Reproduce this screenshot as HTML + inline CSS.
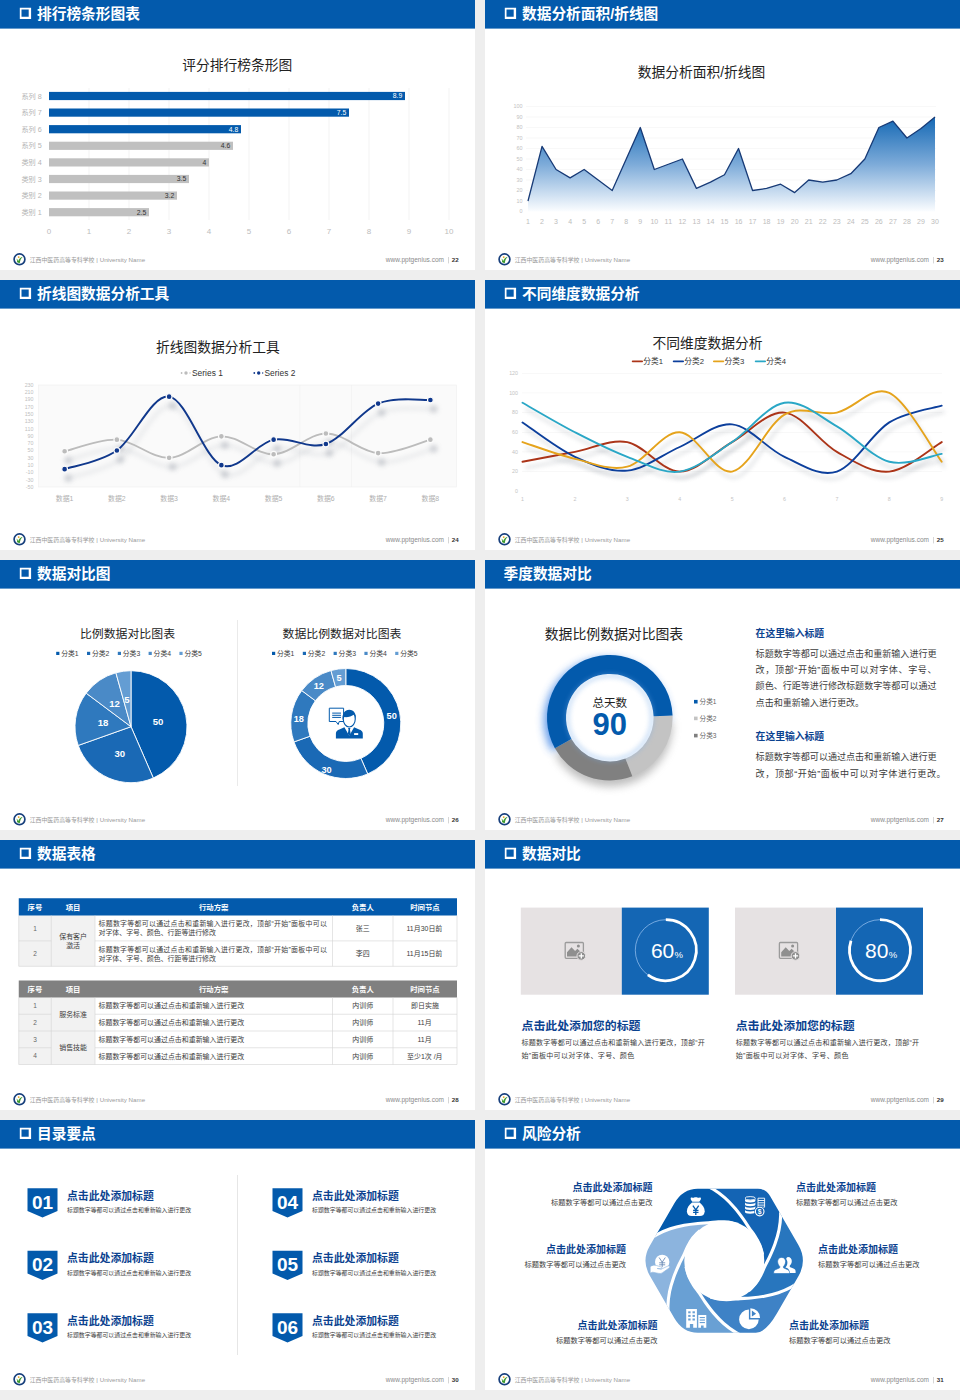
<!DOCTYPE html>
<html lang="zh"><head><meta charset="utf-8"><title>数据图表</title>
<style>
html,body{margin:0;padding:0}
body{width:960px;height:1400px;background:#eee;position:relative;overflow:hidden;font-family:"Liberation Sans","Noto Sans CJK SC",sans-serif}
svg.s{position:absolute;display:block;overflow:hidden}
svg text{font-family:"Liberation Sans","Noto Sans CJK SC",sans-serif;white-space:pre}
</style></head><body>
<svg class="s" style="left:0px;top:0px" width="475" height="270" viewBox="0 0 475 270"><rect width="475" height="270" fill="#fff"/><rect width="475" height="28.6" fill="#035aac"/><path d="M19.8 7.8h11.300v11.300h-11.300zM21.500 9.600v7.100h7.200v-7.100z" fill="#fff" fill-rule="evenodd"/><text x="37" y="19.44" font-size="14.7" font-weight="700" fill="#fff">排行榜条形图表</text><g transform="translate(19.5 259.3)"><circle r="5.4" fill="#fff" stroke="#173f7c" stroke-width="1.7"/><path d="M-3.2 -0.6c1 0.2 1.6 1 1.9 2.2c0.9-2.3 2.4-3.6 4.6-4.2c-1.7 1.5-2.6 3.400-3 6.2c-1.4 0.3-2.4-0.2-2.900-1.100c0.5-0.5 0.5-2-0.6-3.100z" fill="#3a9a2c"/><circle cx="-0.8" cy="-2.2" r="0.9" fill="#e8a21a"/></g><g fill="#9a9a9a"><text x="29.7" y="262.38" font-size="5.9">江西中医药高等专科学校</text><text x="94.6" y="262.38" font-size="6.2" textLength="50.49"> | University Name</text></g><text x="385.84" y="262.4" font-size="6.5" fill="#8a8a8a" textLength="58.16">www.pptgenius.com</text><rect x="448.2" y="257" width="0.6" height="6.4" fill="#bbb"/><text x="451.8" y="262.4" font-size="6.2" font-weight="700" fill="#333" textLength="6.9">22</text><text x="182.3" y="70.49" font-size="13.75" fill="#222">评分排行榜条形图</text><rect x="88.7" y="88" width="0.6" height="132" fill="#ececec"/><rect x="128.7" y="88" width="0.6" height="132" fill="#ececec"/><rect x="168.7" y="88" width="0.6" height="132" fill="#ececec"/><rect x="208.7" y="88" width="0.6" height="132" fill="#ececec"/><rect x="248.7" y="88" width="0.6" height="132" fill="#ececec"/><rect x="288.7" y="88" width="0.6" height="132" fill="#ececec"/><rect x="328.7" y="88" width="0.6" height="132" fill="#ececec"/><rect x="368.7" y="88" width="0.6" height="132" fill="#ececec"/><rect x="408.7" y="88" width="0.6" height="132" fill="#ececec"/><rect x="448.7" y="88" width="0.6" height="132" fill="#ececec"/><rect x="49" y="91.9" width="356" height="8.2" fill="#035aac"/><text x="21.4" y="98.66" font-size="7.2" fill="#b5b5b5">系列 8</text><text x="392.75" y="98.4" font-size="6.8" fill="#fff" textLength="9.45">8.9</text><rect x="49" y="108.5" width="300" height="8.2" fill="#035aac"/><text x="21.4" y="115.26" font-size="7.2" fill="#b5b5b5">系列 7</text><text x="336.75" y="115" font-size="6.8" fill="#fff" textLength="9.45">7.5</text><rect x="49" y="125.1" width="192" height="8.2" fill="#035aac"/><text x="21.4" y="131.86" font-size="7.2" fill="#b5b5b5">系列 6</text><text x="228.75" y="131.6" font-size="6.8" fill="#fff" textLength="9.45">4.8</text><rect x="49" y="141.7" width="184" height="8.2" fill="#c0c0c0"/><text x="21.4" y="148.46" font-size="7.2" fill="#b5b5b5">系列 5</text><text x="220.75" y="148.2" font-size="6.8" fill="#333" textLength="9.45">4.6</text><rect x="49" y="158.3" width="160" height="8.2" fill="#c0c0c0"/><text x="21.4" y="165.06" font-size="7.2" fill="#b5b5b5">类别 4</text><text x="202.42" y="164.8" font-size="6.8" fill="#333">4</text><rect x="49" y="174.9" width="140" height="8.2" fill="#c0c0c0"/><text x="21.4" y="181.66" font-size="7.2" fill="#b5b5b5">类别 3</text><text x="176.75" y="181.4" font-size="6.8" fill="#333" textLength="9.45">3.5</text><rect x="49" y="191.5" width="128" height="8.2" fill="#c0c0c0"/><text x="21.4" y="198.26" font-size="7.2" fill="#b5b5b5">类别 2</text><text x="164.75" y="198" font-size="6.8" fill="#333" textLength="9.45">3.2</text><rect x="49" y="208.1" width="100" height="8.2" fill="#c0c0c0"/><text x="21.4" y="214.86" font-size="7.2" fill="#b5b5b5">类别 1</text><text x="136.75" y="214.6" font-size="6.8" fill="#333" textLength="9.45">2.5</text><text x="46.78" y="234" font-size="8" fill="#bdbdbd">0</text><text x="86.78" y="234" font-size="8" fill="#bdbdbd">1</text><text x="126.78" y="234" font-size="8" fill="#bdbdbd">2</text><text x="166.78" y="234" font-size="8" fill="#bdbdbd">3</text><text x="206.78" y="234" font-size="8" fill="#bdbdbd">4</text><text x="246.78" y="234" font-size="8" fill="#bdbdbd">5</text><text x="286.78" y="234" font-size="8" fill="#bdbdbd">6</text><text x="326.78" y="234" font-size="8" fill="#bdbdbd">7</text><text x="366.78" y="234" font-size="8" fill="#bdbdbd">8</text><text x="406.78" y="234" font-size="8" fill="#bdbdbd">9</text><text x="444.55" y="234" font-size="8" fill="#bdbdbd" textLength="8.9">10</text></svg>
<svg class="s" style="left:485px;top:0px" width="475" height="270" viewBox="0 0 475 270"><rect width="475" height="270" fill="#fff"/><rect width="475" height="28.6" fill="#035aac"/><path d="M19.8 7.8h11.300v11.300h-11.300zM21.500 9.600v7.100h7.200v-7.100z" fill="#fff" fill-rule="evenodd"/><text x="37" y="19.44" font-size="14.7" font-weight="700" fill="#fff">数据分析面积/折线图</text><g transform="translate(19.5 259.3)"><circle r="5.4" fill="#fff" stroke="#173f7c" stroke-width="1.7"/><path d="M-3.2 -0.6c1 0.2 1.6 1 1.9 2.2c0.9-2.3 2.4-3.6 4.6-4.2c-1.7 1.5-2.6 3.400-3 6.2c-1.4 0.3-2.4-0.2-2.900-1.100c0.5-0.5 0.5-2-0.6-3.100z" fill="#3a9a2c"/><circle cx="-0.8" cy="-2.2" r="0.9" fill="#e8a21a"/></g><g fill="#9a9a9a"><text x="29.7" y="262.38" font-size="5.9">江西中医药高等专科学校</text><text x="94.6" y="262.38" font-size="6.2" textLength="50.49"> | University Name</text></g><text x="385.84" y="262.4" font-size="6.5" fill="#8a8a8a" textLength="58.16">www.pptgenius.com</text><rect x="448.2" y="257" width="0.6" height="6.4" fill="#bbb"/><text x="451.8" y="262.4" font-size="6.2" font-weight="700" fill="#333" textLength="6.9">23</text><g transform="translate(-5 0)"><text x="157.71" y="77.49" font-size="13.75" fill="#222">数据分析面积/折线图</text><text x="39.5" y="213.4" font-size="5.4" fill="#c2c2c2">0</text><rect x="46" y="200.75" width="410" height="0.5" fill="#f0f0f0"/><text x="36.49" y="202.9" font-size="5.4" fill="#c2c2c2" textLength="6.01">10</text><rect x="46" y="190.25" width="410" height="0.5" fill="#f0f0f0"/><text x="36.49" y="192.4" font-size="5.4" fill="#c2c2c2" textLength="6.01">20</text><rect x="46" y="179.75" width="410" height="0.5" fill="#f0f0f0"/><text x="36.49" y="181.9" font-size="5.4" fill="#c2c2c2" textLength="6.01">30</text><rect x="46" y="169.25" width="410" height="0.5" fill="#f0f0f0"/><text x="36.49" y="171.4" font-size="5.4" fill="#c2c2c2" textLength="6.01">40</text><rect x="46" y="158.75" width="410" height="0.5" fill="#f0f0f0"/><text x="36.49" y="160.9" font-size="5.4" fill="#c2c2c2" textLength="6.01">50</text><rect x="46" y="148.25" width="410" height="0.5" fill="#f0f0f0"/><text x="36.49" y="150.4" font-size="5.4" fill="#c2c2c2" textLength="6.01">60</text><rect x="46" y="137.75" width="410" height="0.5" fill="#f0f0f0"/><text x="36.49" y="139.9" font-size="5.4" fill="#c2c2c2" textLength="6.01">70</text><rect x="46" y="127.25" width="410" height="0.5" fill="#f0f0f0"/><text x="36.49" y="129.4" font-size="5.4" fill="#c2c2c2" textLength="6.01">80</text><rect x="46" y="116.75" width="410" height="0.5" fill="#f0f0f0"/><text x="36.49" y="118.9" font-size="5.4" fill="#c2c2c2" textLength="6.01">90</text><rect x="46" y="106.25" width="410" height="0.5" fill="#f0f0f0"/><text x="33.49" y="108.4" font-size="5.4" fill="#c2c2c2" textLength="9.01">100</text><defs><linearGradient id="ag" x1="0" y1="0" x2="0" y2="1"><stop offset="0" stop-color="#1468b4"/><stop offset="0.5" stop-color="#7dabd9"/><stop offset="1" stop-color="#fbfdff"/></linearGradient></defs><path d="M48 201L62.03 146.4L76.07 169.5L90.11 177.9L104.14 169.5L118.17 180L132.21 190.5L146.25 159L160.28 127.5L174.31 169.5L188.35 164.25L202.38 159L216.42 188.4L230.46 182.1L244.49 174.75L258.52 148.5L272.56 190.5L286.6 188.4L300.63 184.2L314.67 192.6L328.7 180L342.74 182.1L356.77 180L370.81 173.7L384.84 159L398.88 127.5L412.91 121.2L426.94 138L440.98 128.55L455.01 117L455.01 211.5L48 211.5Z" fill="url(#ag)"/><path d="M48 201L62.03 146.4L76.07 169.5L90.11 177.9L104.14 169.5L118.17 180L132.21 190.5L146.25 159L160.28 127.5L174.31 169.5L188.35 164.25L202.38 159L216.42 188.4L230.46 182.1L244.49 174.75L258.52 148.5L272.56 190.5L286.6 188.4L300.63 184.2L314.67 192.6L328.7 180L342.74 182.1L356.77 180L370.81 173.7L384.84 159L398.88 127.5L412.91 121.2L426.94 138L440.98 128.55L455.01 117" fill="none" stroke="#173a76" stroke-width="1.300" stroke-linejoin="round"/><text x="46.05" y="223.6" font-size="7" fill="#bdbdbd">1</text><text x="60.09" y="223.6" font-size="7" fill="#bdbdbd">2</text><text x="74.12" y="223.6" font-size="7" fill="#bdbdbd">3</text><text x="88.16" y="223.6" font-size="7" fill="#bdbdbd">4</text><text x="102.19" y="223.6" font-size="7" fill="#bdbdbd">5</text><text x="116.23" y="223.6" font-size="7" fill="#bdbdbd">6</text><text x="130.26" y="223.6" font-size="7" fill="#bdbdbd">7</text><text x="144.3" y="223.6" font-size="7" fill="#bdbdbd">8</text><text x="158.33" y="223.6" font-size="7" fill="#bdbdbd">9</text><text x="170.42" y="223.6" font-size="7" fill="#bdbdbd" textLength="7.79">10</text><text x="184.46" y="223.6" font-size="7" fill="#bdbdbd" textLength="7.79">11</text><text x="198.49" y="223.6" font-size="7" fill="#bdbdbd" textLength="7.79">12</text><text x="212.53" y="223.6" font-size="7" fill="#bdbdbd" textLength="7.79">13</text><text x="226.56" y="223.6" font-size="7" fill="#bdbdbd" textLength="7.79">14</text><text x="240.6" y="223.6" font-size="7" fill="#bdbdbd" textLength="7.79">15</text><text x="254.63" y="223.6" font-size="7" fill="#bdbdbd" textLength="7.79">16</text><text x="268.67" y="223.6" font-size="7" fill="#bdbdbd" textLength="7.79">17</text><text x="282.7" y="223.6" font-size="7" fill="#bdbdbd" textLength="7.79">18</text><text x="296.74" y="223.6" font-size="7" fill="#bdbdbd" textLength="7.79">19</text><text x="310.77" y="223.6" font-size="7" fill="#bdbdbd" textLength="7.79">20</text><text x="324.81" y="223.6" font-size="7" fill="#bdbdbd" textLength="7.79">21</text><text x="338.84" y="223.6" font-size="7" fill="#bdbdbd" textLength="7.79">22</text><text x="352.88" y="223.6" font-size="7" fill="#bdbdbd" textLength="7.79">23</text><text x="366.91" y="223.6" font-size="7" fill="#bdbdbd" textLength="7.79">24</text><text x="380.95" y="223.6" font-size="7" fill="#bdbdbd" textLength="7.79">25</text><text x="394.98" y="223.6" font-size="7" fill="#bdbdbd" textLength="7.79">26</text><text x="409.02" y="223.6" font-size="7" fill="#bdbdbd" textLength="7.79">27</text><text x="423.05" y="223.6" font-size="7" fill="#bdbdbd" textLength="7.79">28</text><text x="437.09" y="223.6" font-size="7" fill="#bdbdbd" textLength="7.79">29</text><text x="451.12" y="223.6" font-size="7" fill="#bdbdbd" textLength="7.79">30</text></g></svg>
<svg class="s" style="left:0px;top:280px" width="475" height="270" viewBox="0 0 475 270"><rect width="475" height="270" fill="#fff"/><rect width="475" height="28.6" fill="#035aac"/><path d="M19.8 7.8h11.300v11.300h-11.300zM21.500 9.600v7.100h7.200v-7.100z" fill="#fff" fill-rule="evenodd"/><text x="37" y="19.44" font-size="14.7" font-weight="700" fill="#fff">折线图数据分析工具</text><g transform="translate(19.5 259.3)"><circle r="5.4" fill="#fff" stroke="#173f7c" stroke-width="1.7"/><path d="M-3.2 -0.6c1 0.2 1.6 1 1.9 2.2c0.9-2.3 2.4-3.6 4.6-4.2c-1.7 1.5-2.6 3.400-3 6.2c-1.4 0.3-2.4-0.2-2.900-1.100c0.5-0.5 0.5-2-0.6-3.100z" fill="#3a9a2c"/><circle cx="-0.8" cy="-2.2" r="0.9" fill="#e8a21a"/></g><g fill="#9a9a9a"><text x="29.7" y="262.38" font-size="5.9">江西中医药高等专科学校</text><text x="94.6" y="262.38" font-size="6.2" textLength="50.49"> | University Name</text></g><text x="385.84" y="262.4" font-size="6.5" fill="#8a8a8a" textLength="58.16">www.pptgenius.com</text><rect x="448.2" y="257" width="0.6" height="6.4" fill="#bbb"/><text x="451.8" y="262.4" font-size="6.2" font-weight="700" fill="#333" textLength="6.9">24</text><text x="156.12" y="72.19" font-size="13.75" fill="#222">折线图数据分析工具</text><rect x="38.5" y="105" width="418.0" height="102" fill="#fafafa" stroke="#efefef" stroke-width="0.6"/><rect x="299.7" y="105" width="0.5" height="102" fill="#eee"/><rect x="351" y="105" width="0.5" height="102" fill="#eee"/><text x="24.66" y="106.9" font-size="5.3" fill="#c0c0c0" textLength="8.84">230</text><text x="24.66" y="114.19" font-size="5.3" fill="#c0c0c0" textLength="8.84">210</text><text x="24.66" y="121.47" font-size="5.3" fill="#c0c0c0" textLength="8.84">190</text><text x="24.66" y="128.76" font-size="5.3" fill="#c0c0c0" textLength="8.84">170</text><text x="24.66" y="136.04" font-size="5.3" fill="#c0c0c0" textLength="8.84">150</text><text x="24.66" y="143.33" font-size="5.3" fill="#c0c0c0" textLength="8.84">130</text><text x="24.66" y="150.61" font-size="5.3" fill="#c0c0c0" textLength="8.84">110</text><text x="27.6" y="157.9" font-size="5.3" fill="#c0c0c0" textLength="5.9">90</text><text x="27.6" y="165.19" font-size="5.3" fill="#c0c0c0" textLength="5.9">70</text><text x="27.6" y="172.47" font-size="5.3" fill="#c0c0c0" textLength="5.9">50</text><text x="27.6" y="179.76" font-size="5.3" fill="#c0c0c0" textLength="5.9">30</text><text x="27.6" y="187.04" font-size="5.3" fill="#c0c0c0" textLength="5.9">10</text><text x="25.84" y="194.33" font-size="5.3" fill="#c0c0c0" textLength="7.66">-10</text><text x="25.84" y="201.61" font-size="5.3" fill="#c0c0c0" textLength="7.66">-30</text><text x="25.84" y="208.9" font-size="5.3" fill="#c0c0c0" textLength="7.66">-50</text><defs><filter id="bl3" x="-10%" y="-50%" width="120%" height="200%"><feGaussianBlur stdDeviation="2.6"/></filter></defs><path d="M64.62 171.3C73.33 169.36 99.46 158.55 116.88 159.64C134.29 160.74 151.71 178.4 169.12 177.86C186.54 177.31 203.96 156.97 221.38 156.36C238.79 155.76 256.21 174.7 273.62 174.21C291.04 173.73 308.46 153.63 325.88 153.45C343.29 153.27 360.71 172.09 378.12 173.12C395.54 174.15 421.67 161.89 430.38 159.64" fill="none" stroke="#9aa0aa" stroke-width="3" opacity="0.22" filter="url(#bl3)" transform="translate(3 9)"/><g filter="url(#bl3)" opacity="0.4" transform="translate(3.500 9)" fill="#8a909c"><circle cx="64.62" cy="171.3" r="3.600"/><circle cx="116.88" cy="159.64" r="3.600"/><circle cx="169.12" cy="177.86" r="3.600"/><circle cx="221.38" cy="156.36" r="3.600"/><circle cx="273.62" cy="174.21" r="3.600"/><circle cx="325.88" cy="153.45" r="3.600"/><circle cx="378.12" cy="173.12" r="3.600"/><circle cx="430.38" cy="159.64" r="3.600"/></g><path d="M64.62 189.15C73.33 186.05 99.46 182.65 116.88 170.57C134.29 158.49 151.71 114.23 169.12 116.66C186.54 119.09 203.96 177.98 221.38 185.14C238.79 192.31 256.21 163.16 273.62 159.64C291.04 156.12 308.46 170.02 325.88 164.01C343.29 158 360.71 130.92 378.12 123.58C395.54 116.23 421.67 120.54 430.38 119.94" fill="none" stroke="#9aa0aa" stroke-width="3" opacity="0.22" filter="url(#bl3)" transform="translate(3 9)"/><g filter="url(#bl3)" opacity="0.4" transform="translate(3.500 9)" fill="#8a909c"><circle cx="64.62" cy="189.15" r="3.600"/><circle cx="116.88" cy="170.57" r="3.600"/><circle cx="169.12" cy="116.66" r="3.600"/><circle cx="221.38" cy="185.14" r="3.600"/><circle cx="273.62" cy="159.64" r="3.600"/><circle cx="325.88" cy="164.01" r="3.600"/><circle cx="378.12" cy="123.58" r="3.600"/><circle cx="430.38" cy="119.94" r="3.600"/></g><path d="M64.62 171.3C73.33 169.36 99.46 158.55 116.88 159.64C134.29 160.74 151.71 178.4 169.12 177.86C186.54 177.31 203.96 156.97 221.38 156.36C238.79 155.76 256.21 174.7 273.62 174.21C291.04 173.73 308.46 153.63 325.88 153.45C343.29 153.27 360.71 172.09 378.12 173.12C395.54 174.15 421.67 161.89 430.38 159.64" fill="none" stroke="#bcbcbc" stroke-width="1.9" stroke-linecap="round"/><circle cx="64.62" cy="171.3" r="2.900" fill="#bcbcbc" stroke="#fbfbfb" stroke-width="1.200"/><circle cx="116.88" cy="159.64" r="2.900" fill="#bcbcbc" stroke="#fbfbfb" stroke-width="1.200"/><circle cx="169.12" cy="177.86" r="2.900" fill="#bcbcbc" stroke="#fbfbfb" stroke-width="1.200"/><circle cx="221.38" cy="156.36" r="2.900" fill="#bcbcbc" stroke="#fbfbfb" stroke-width="1.200"/><circle cx="273.62" cy="174.21" r="2.900" fill="#bcbcbc" stroke="#fbfbfb" stroke-width="1.200"/><circle cx="325.88" cy="153.45" r="2.900" fill="#bcbcbc" stroke="#fbfbfb" stroke-width="1.200"/><circle cx="378.12" cy="173.12" r="2.900" fill="#bcbcbc" stroke="#fbfbfb" stroke-width="1.200"/><circle cx="430.38" cy="159.64" r="2.900" fill="#bcbcbc" stroke="#fbfbfb" stroke-width="1.200"/><path d="M64.62 189.15C73.33 186.05 99.46 182.65 116.88 170.57C134.29 158.49 151.71 114.23 169.12 116.66C186.54 119.09 203.96 177.98 221.38 185.14C238.79 192.31 256.21 163.16 273.62 159.64C291.04 156.12 308.46 170.02 325.88 164.01C343.29 158 360.71 130.92 378.12 123.58C395.54 116.23 421.67 120.54 430.38 119.94" fill="none" stroke="#10388c" stroke-width="1.9" stroke-linecap="round"/><circle cx="64.62" cy="189.15" r="2.900" fill="#10388c" stroke="#fbfbfb" stroke-width="1.200"/><circle cx="116.88" cy="170.57" r="2.900" fill="#10388c" stroke="#fbfbfb" stroke-width="1.200"/><circle cx="169.12" cy="116.66" r="2.900" fill="#10388c" stroke="#fbfbfb" stroke-width="1.200"/><circle cx="221.38" cy="185.14" r="2.900" fill="#10388c" stroke="#fbfbfb" stroke-width="1.200"/><circle cx="273.62" cy="159.64" r="2.900" fill="#10388c" stroke="#fbfbfb" stroke-width="1.200"/><circle cx="325.88" cy="164.01" r="2.900" fill="#10388c" stroke="#fbfbfb" stroke-width="1.200"/><circle cx="378.12" cy="123.58" r="2.900" fill="#10388c" stroke="#fbfbfb" stroke-width="1.200"/><circle cx="430.38" cy="119.94" r="2.900" fill="#10388c" stroke="#fbfbfb" stroke-width="1.200"/><text x="55.81" y="221.35" font-size="6.9" fill="#b0b0b0">数据1</text><text x="108.06" y="221.35" font-size="6.9" fill="#b0b0b0">数据2</text><text x="160.31" y="221.35" font-size="6.9" fill="#b0b0b0">数据3</text><text x="212.56" y="221.35" font-size="6.9" fill="#b0b0b0">数据4</text><text x="264.81" y="221.35" font-size="6.9" fill="#b0b0b0">数据5</text><text x="317.06" y="221.35" font-size="6.9" fill="#b0b0b0">数据6</text><text x="369.31" y="221.35" font-size="6.9" fill="#b0b0b0">数据7</text><text x="421.56" y="221.35" font-size="6.9" fill="#b0b0b0">数据8</text><circle cx="181.600" cy="93" r="0.9" fill="#bcbcbc"/><circle cx="186" cy="93" r="1.7" fill="#bcbcbc"/><circle cx="190" cy="93" r="0.7" fill="#bcbcbc"/><text x="192" y="95.9" font-size="8.4" fill="#333" textLength="30.82">Series 1</text><circle cx="254.300" cy="93" r="0.9" fill="#10388c"/><circle cx="258.700" cy="93" r="1.7" fill="#10388c"/><circle cx="262.700" cy="93" r="0.7" fill="#10388c"/><text x="264.5" y="95.9" font-size="8.4" fill="#333" textLength="30.82">Series 2</text></svg>
<svg class="s" style="left:485px;top:280px" width="475" height="270" viewBox="0 0 475 270"><rect width="475" height="270" fill="#fff"/><rect width="475" height="28.6" fill="#035aac"/><path d="M19.8 7.8h11.300v11.300h-11.300zM21.500 9.600v7.100h7.200v-7.100z" fill="#fff" fill-rule="evenodd"/><text x="37" y="19.44" font-size="14.7" font-weight="700" fill="#fff">不同维度数据分析</text><g transform="translate(19.5 259.3)"><circle r="5.4" fill="#fff" stroke="#173f7c" stroke-width="1.7"/><path d="M-3.2 -0.6c1 0.2 1.6 1 1.9 2.2c0.9-2.3 2.4-3.6 4.6-4.2c-1.7 1.5-2.6 3.400-3 6.2c-1.4 0.3-2.4-0.2-2.900-1.100c0.5-0.5 0.5-2-0.6-3.100z" fill="#3a9a2c"/><circle cx="-0.8" cy="-2.2" r="0.9" fill="#e8a21a"/></g><g fill="#9a9a9a"><text x="29.7" y="262.38" font-size="5.9">江西中医药高等专科学校</text><text x="94.6" y="262.38" font-size="6.2" textLength="50.49"> | University Name</text></g><text x="385.84" y="262.4" font-size="6.5" fill="#8a8a8a" textLength="58.16">www.pptgenius.com</text><rect x="448.2" y="257" width="0.6" height="6.4" fill="#bbb"/><text x="451.8" y="262.4" font-size="6.2" font-weight="700" fill="#333" textLength="6.9">25</text><g transform="translate(-5 0)"><text x="172.5" y="67.99" font-size="13.75" fill="#222">不同维度数据分析</text><text x="35.05" y="213.15" font-size="5.3" fill="#c4c4c4">0</text><rect x="42" y="191.33" width="420" height="0.5" fill="#f1f1f1"/><text x="32.1" y="193.48" font-size="5.3" fill="#c4c4c4" textLength="5.9">20</text><rect x="42" y="171.67" width="420" height="0.5" fill="#f1f1f1"/><text x="32.1" y="173.82" font-size="5.3" fill="#c4c4c4" textLength="5.9">40</text><rect x="42" y="152" width="420" height="0.5" fill="#f1f1f1"/><text x="32.1" y="154.15" font-size="5.3" fill="#c4c4c4" textLength="5.9">60</text><rect x="42" y="132.33" width="420" height="0.5" fill="#f1f1f1"/><text x="32.1" y="134.48" font-size="5.3" fill="#c4c4c4" textLength="5.9">80</text><rect x="42" y="112.67" width="420" height="0.5" fill="#f1f1f1"/><text x="29.16" y="114.82" font-size="5.3" fill="#c4c4c4" textLength="8.84">100</text><rect x="42" y="93" width="420" height="0.5" fill="#f1f1f1"/><text x="29.16" y="95.15" font-size="5.3" fill="#c4c4c4" textLength="8.84">120</text><text x="41.03" y="220.8" font-size="5.3" fill="#c4c4c4">1</text><text x="93.43" y="220.8" font-size="5.3" fill="#c4c4c4">2</text><text x="145.83" y="220.8" font-size="5.3" fill="#c4c4c4">3</text><text x="198.23" y="220.8" font-size="5.3" fill="#c4c4c4">4</text><text x="250.63" y="220.8" font-size="5.3" fill="#c4c4c4">5</text><text x="303.03" y="220.8" font-size="5.3" fill="#c4c4c4">6</text><text x="355.43" y="220.8" font-size="5.3" fill="#c4c4c4">7</text><text x="407.83" y="220.8" font-size="5.3" fill="#c4c4c4">8</text><text x="460.23" y="220.8" font-size="5.3" fill="#c4c4c4">9</text><defs><filter id="bl4" x="-10%" y="-50%" width="120%" height="200%"><feGaussianBlur stdDeviation="2.2"/></filter></defs><path d="M42.5 181.75C51.23 180.11 77.43 175.19 94.9 171.92C112.37 168.64 129.83 158.81 147.3 162.08C164.77 165.36 182.23 191.58 199.7 191.58C217.17 191.58 234.63 171.92 252.1 162.08C269.57 152.25 287.03 130.94 304.5 132.58C321.97 134.22 339.43 162.08 356.9 171.92C374.37 181.75 391.83 193.22 409.3 191.58C426.77 189.94 452.97 167 461.7 162.08" fill="none" stroke="#8d949e" stroke-width="2.4" opacity="0.3" filter="url(#bl4)" transform="translate(3 6)"/><path d="M42.5 142.42C51.23 148.15 77.43 168.8 94.9 176.83C112.37 184.86 129.83 192.24 147.3 190.6C164.77 188.96 182.23 174.7 199.7 167C217.17 159.3 234.63 142.74 252.1 144.38C269.57 146.02 287.03 168.97 304.5 176.83C321.97 184.7 339.43 197.32 356.9 191.58C374.37 185.85 391.83 153.4 409.3 142.42C426.77 131.44 452.97 128.49 461.7 125.7" fill="none" stroke="#8d949e" stroke-width="2.4" opacity="0.3" filter="url(#bl4)" transform="translate(3 6)"/><path d="M42.5 162.08C51.23 164.87 77.43 174.7 94.9 178.8C112.37 182.9 129.83 191.09 147.3 186.67C164.77 182.24 182.23 151.43 199.7 152.25C217.17 153.07 234.63 194.53 252.1 191.58C269.57 188.63 287.03 144.38 304.5 134.55C321.97 124.72 339.43 136.19 356.9 132.58C374.37 128.98 391.83 104.72 409.3 112.92C426.77 121.11 452.97 170.28 461.7 181.75" fill="none" stroke="#8d949e" stroke-width="2.4" opacity="0.3" filter="url(#bl4)" transform="translate(3 6)"/><path d="M42.5 122.75C51.23 127.67 77.43 143.24 94.9 152.25C112.37 161.26 129.83 170.28 147.3 176.83C164.77 183.39 182.23 194.04 199.7 191.58C217.17 189.12 234.63 173.56 252.1 162.08C269.57 150.61 287.03 125.37 304.5 122.75C321.97 120.13 339.43 136.52 356.9 146.35C374.37 156.18 391.83 177.16 409.3 181.75C426.77 186.34 452.97 175.19 461.7 173.88" fill="none" stroke="#8d949e" stroke-width="2.4" opacity="0.3" filter="url(#bl4)" transform="translate(3 6)"/><path d="M42.5 181.75C51.23 180.11 77.43 175.19 94.9 171.92C112.37 168.64 129.83 158.81 147.3 162.08C164.77 165.36 182.23 191.58 199.7 191.58C217.17 191.58 234.63 171.92 252.1 162.08C269.57 152.25 287.03 130.94 304.5 132.58C321.97 134.22 339.43 162.08 356.9 171.92C374.37 181.75 391.83 193.22 409.3 191.58C426.77 189.94 452.97 167 461.7 162.08" fill="none" stroke="#ab3418" stroke-width="1.9" stroke-linecap="round"/><path d="M42.5 142.42C51.23 148.15 77.43 168.8 94.9 176.83C112.37 184.86 129.83 192.24 147.3 190.6C164.77 188.96 182.23 174.7 199.7 167C217.17 159.3 234.63 142.74 252.1 144.38C269.57 146.02 287.03 168.97 304.5 176.83C321.97 184.7 339.43 197.32 356.9 191.58C374.37 185.85 391.83 153.4 409.3 142.42C426.77 131.44 452.97 128.49 461.7 125.7" fill="none" stroke="#0c3f9c" stroke-width="1.9" stroke-linecap="round"/><path d="M42.5 162.08C51.23 164.87 77.43 174.7 94.9 178.8C112.37 182.9 129.83 191.09 147.3 186.67C164.77 182.24 182.23 151.43 199.7 152.25C217.17 153.07 234.63 194.53 252.1 191.58C269.57 188.63 287.03 144.38 304.5 134.55C321.97 124.72 339.43 136.19 356.9 132.58C374.37 128.98 391.83 104.72 409.3 112.92C426.77 121.11 452.97 170.28 461.7 181.75" fill="none" stroke="#e5a31c" stroke-width="1.9" stroke-linecap="round"/><path d="M42.5 122.75C51.23 127.67 77.43 143.24 94.9 152.25C112.37 161.26 129.83 170.28 147.3 176.83C164.77 183.39 182.23 194.04 199.7 191.58C217.17 189.12 234.63 173.56 252.1 162.08C269.57 150.61 287.03 125.37 304.5 122.75C321.97 120.13 339.43 136.52 356.9 146.35C374.37 156.18 391.83 177.16 409.3 181.75C426.77 186.34 452.97 175.19 461.7 173.88" fill="none" stroke="#2aa7c6" stroke-width="1.9" stroke-linecap="round"/><rect x="151.8" y="80.500" width="11.200" height="1.700" rx="0.8" fill="#ab3418"/><text x="163.3" y="84.25" font-size="7.7" fill="#333">分类1</text><rect x="192.8" y="80.500" width="11.200" height="1.700" rx="0.8" fill="#0c3f9c"/><text x="204.3" y="84.25" font-size="7.7" fill="#333">分类2</text><rect x="233" y="80.500" width="11.200" height="1.700" rx="0.8" fill="#e5a31c"/><text x="244.5" y="84.25" font-size="7.7" fill="#333">分类3</text><rect x="274.8" y="80.500" width="11.200" height="1.700" rx="0.8" fill="#2aa7c6"/><text x="286.3" y="84.25" font-size="7.7" fill="#333">分类4</text></g></svg>
<svg class="s" style="left:0px;top:560px" width="475" height="270" viewBox="0 0 475 270"><rect width="475" height="270" fill="#fff"/><rect width="475" height="28.6" fill="#035aac"/><path d="M19.8 7.8h11.300v11.300h-11.300zM21.500 9.600v7.100h7.200v-7.100z" fill="#fff" fill-rule="evenodd"/><text x="37" y="19.44" font-size="14.7" font-weight="700" fill="#fff">数据对比图</text><g transform="translate(19.5 259.3)"><circle r="5.4" fill="#fff" stroke="#173f7c" stroke-width="1.7"/><path d="M-3.2 -0.6c1 0.2 1.6 1 1.9 2.2c0.9-2.3 2.4-3.6 4.6-4.2c-1.7 1.5-2.6 3.400-3 6.2c-1.4 0.3-2.4-0.2-2.900-1.100c0.5-0.5 0.5-2-0.6-3.100z" fill="#3a9a2c"/><circle cx="-0.8" cy="-2.2" r="0.9" fill="#e8a21a"/></g><g fill="#9a9a9a"><text x="29.7" y="262.38" font-size="5.9">江西中医药高等专科学校</text><text x="94.6" y="262.38" font-size="6.2" textLength="50.49"> | University Name</text></g><text x="385.84" y="262.4" font-size="6.5" fill="#8a8a8a" textLength="58.16">www.pptgenius.com</text><rect x="448.2" y="257" width="0.6" height="6.4" fill="#bbb"/><text x="451.8" y="262.4" font-size="6.2" font-weight="700" fill="#333" textLength="6.9">26</text><rect x="237.2" y="60" width="0.6" height="166" fill="#dcdcdc"/><text x="79.9" y="78.4" font-size="11.9" fill="#222">比例数据对比图表</text><text x="282.5" y="78.4" font-size="11.9" fill="#222">数据比例数据对比图表</text><rect x="56.2" y="91.800" width="3.2" height="3.2" fill="#035aac"/><text x="61.2" y="96.12" font-size="6.8" fill="#3c3c3c">分类1</text><rect x="87" y="91.800" width="3.2" height="3.2" fill="#1a69b5"/><text x="92" y="96.12" font-size="6.8" fill="#3c3c3c">分类2</text><rect x="117.8" y="91.800" width="3.2" height="3.2" fill="#2f79be"/><text x="122.8" y="96.12" font-size="6.8" fill="#3c3c3c">分类3</text><rect x="148.6" y="91.800" width="3.2" height="3.2" fill="#4a8ac7"/><text x="153.6" y="96.12" font-size="6.8" fill="#3c3c3c">分类4</text><rect x="179.4" y="91.800" width="3.2" height="3.2" fill="#649dd3"/><text x="184.4" y="96.12" font-size="6.8" fill="#3c3c3c">分类5</text><rect x="272" y="91.800" width="3.2" height="3.2" fill="#035aac"/><text x="277" y="96.12" font-size="6.8" fill="#3c3c3c">分类1</text><rect x="302.8" y="91.800" width="3.2" height="3.2" fill="#1a69b5"/><text x="307.8" y="96.12" font-size="6.8" fill="#3c3c3c">分类2</text><rect x="333.6" y="91.800" width="3.2" height="3.2" fill="#2f79be"/><text x="338.6" y="96.12" font-size="6.8" fill="#3c3c3c">分类3</text><rect x="364.4" y="91.800" width="3.2" height="3.2" fill="#4a8ac7"/><text x="369.4" y="96.12" font-size="6.8" fill="#3c3c3c">分类4</text><rect x="395.2" y="91.800" width="3.2" height="3.2" fill="#649dd3"/><text x="400.2" y="96.12" font-size="6.8" fill="#3c3c3c">分类5</text><path d="M131 166.7L131 110.7A56 56 0 0 1 153.31 218.06Z" fill="#035aac" stroke="#fff" stroke-width="0.9" stroke-linejoin="round"/><path d="M131 166.7L153.31 218.06A56 56 0 0 1 78.23 185.45Z" fill="#1a69b5" stroke="#fff" stroke-width="0.9" stroke-linejoin="round"/><path d="M131 166.7L78.23 185.45A56 56 0 0 1 86.15 133.17Z" fill="#2f79be" stroke="#fff" stroke-width="0.9" stroke-linejoin="round"/><path d="M131 166.7L86.15 133.17A56 56 0 0 1 115.89 112.78Z" fill="#4a8ac7" stroke="#fff" stroke-width="0.9" stroke-linejoin="round"/><path d="M131 166.7L115.89 112.78A56 56 0 0 1 131 110.7Z" fill="#649dd3" stroke="#fff" stroke-width="0.9" stroke-linejoin="round"/><text x="152.66" y="164.9" font-size="9.6" font-weight="700" fill="#fff" textLength="10.68">50</text><text x="114.46" y="196.7" font-size="9.6" font-weight="700" fill="#fff" textLength="10.68">30</text><text x="97.66" y="166.4" font-size="9.6" font-weight="700" fill="#fff" textLength="10.68">18</text><text x="109.26" y="147.4" font-size="9.6" font-weight="700" fill="#fff" textLength="10.68">12</text><text x="124.23" y="143" font-size="9.6" font-weight="700" fill="#fff">5</text><path d="M345.8 108.5A55 55 0 0 1 367.71 213.95L360.94 198.35A38 38 0 0 0 345.8 125.5Z" fill="#035aac" stroke="#fff" stroke-width="0.9" stroke-linejoin="round"/><path d="M367.71 213.95A55 55 0 0 1 293.98 181.92L309.99 176.23A38 38 0 0 0 360.94 198.35Z" fill="#1a69b5" stroke="#fff" stroke-width="0.9" stroke-linejoin="round"/><path d="M293.98 181.92A55 55 0 0 1 301.75 130.57L315.37 140.75A38 38 0 0 0 309.99 176.23Z" fill="#2f79be" stroke="#fff" stroke-width="0.9" stroke-linejoin="round"/><path d="M301.75 130.57A55 55 0 0 1 330.96 110.54L335.55 126.91A38 38 0 0 0 315.37 140.75Z" fill="#4a8ac7" stroke="#fff" stroke-width="0.9" stroke-linejoin="round"/><path d="M330.96 110.54A55 55 0 0 1 345.8 108.5L345.8 125.5A38 38 0 0 0 335.55 126.91Z" fill="#649dd3" stroke="#fff" stroke-width="0.9" stroke-linejoin="round"/><text x="386.58" y="158.5" font-size="9.2" font-weight="700" fill="#fff" textLength="10.23">50</text><text x="321.38" y="212.7" font-size="9.2" font-weight="700" fill="#fff" textLength="10.23">30</text><text x="293.63" y="161.6" font-size="9.2" font-weight="700" fill="#fff" textLength="10.23">18</text><text x="313.63" y="128.7" font-size="9.2" font-weight="700" fill="#fff" textLength="10.23">12</text><text x="336.44" y="121" font-size="9.2" font-weight="700" fill="#fff">5</text><g transform="translate(345.800 163.5)" fill="#035aac"><path d="M-16.500 -15.300h14.300v13.300h-4.400l-1 3l-2.200-3h-6.700z" fill="#fff" stroke="#035aac" stroke-width="1" stroke-linejoin="round"/><rect x="-13.600" y="-10.900" width="8.800" height="1"/><rect x="-13.600" y="-8.700" width="8.800" height="1"/><rect x="-13.600" y="-6.600" width="8.800" height="1"/><ellipse cx="3.450" cy="-4.600" rx="6" ry="8.100" fill="#fff" stroke="#035aac" stroke-width="1.100"/><path d="M-3.100 -3.600c-0.800-6.300 2.200-10.100 6.600-10.100c4.400 0 7.300 3.800 6.500 10.100c-0.200-2.100-0.700-3.900-1.600-5.300c-2.600 1.900-6.300 2.800-9.700 2.500c-0.900 0.700-1.500 1.600-1.800 2.800z"/><path d="M-9.900 15.100v-5.100c0-2.500 1.500-3.400 3.500-4.100l5-2.200l4.850 8.500l4.850-8.500l5 2.200c2 0.700 3.700 1.600 3.700 4.100v5.100z"/><path d="M2.250 4.600h2.400l-0.500 1.300l0.700 4.300l-1.400 2.200l-1.400-2.200l0.700-4.300z"/><rect x="8.300" y="9.600" width="4.100" height="1.900" fill="#fff"/></g></svg>
<svg class="s" style="left:485px;top:560px" width="475" height="270" viewBox="0 0 475 270"><rect width="475" height="270" fill="#fff"/><rect width="475" height="28.6" fill="#035aac"/><text x="18.5" y="19.44" font-size="14.7" font-weight="700" fill="#fff">季度数据对比</text><g transform="translate(19.5 259.3)"><circle r="5.4" fill="#fff" stroke="#173f7c" stroke-width="1.7"/><path d="M-3.2 -0.6c1 0.2 1.6 1 1.9 2.2c0.9-2.3 2.4-3.6 4.6-4.2c-1.7 1.5-2.6 3.400-3 6.2c-1.4 0.3-2.4-0.2-2.900-1.100c0.5-0.5 0.5-2-0.6-3.100z" fill="#3a9a2c"/><circle cx="-0.8" cy="-2.2" r="0.9" fill="#e8a21a"/></g><g fill="#9a9a9a"><text x="29.7" y="262.38" font-size="5.9">江西中医药高等专科学校</text><text x="94.6" y="262.38" font-size="6.2" textLength="50.49"> | University Name</text></g><text x="385.84" y="262.4" font-size="6.5" fill="#8a8a8a" textLength="58.16">www.pptgenius.com</text><rect x="448.2" y="257" width="0.6" height="6.4" fill="#bbb"/><text x="451.8" y="262.4" font-size="6.2" font-weight="700" fill="#333" textLength="6.9">27</text><g transform="translate(-5 0)"><text x="64.75" y="79.12" font-size="13.85" fill="#222">数据比例数据对比图表</text><defs><filter id="bl6" x="-30%" y="-30%" width="160%" height="160%"><feGaussianBlur stdDeviation="4"/></filter><filter id="bl6b" x="-30%" y="-30%" width="160%" height="160%"><feGaussianBlur stdDeviation="2.5"/></filter></defs><path d="M74.87 188.15A62.8 62.8 0 1 1 192.56 155.51L173.57 156.17A43.8 43.8 0 1 0 91.49 178.93Z" fill="#4f8fe8" opacity="0.9" filter="url(#bl6)" transform="translate(-3 3)"/><path d="M192.56 155.51A62.8 62.8 0 0 1 74.87 188.15L91.49 178.93A43.8 43.8 0 0 0 173.57 156.17Z" fill="#888" opacity="0.55" filter="url(#bl6)" transform="translate(0 6)"/><circle cx="129.8" cy="157.7" r="44.8" fill="#fff"/><path d="M192.56 155.51A62.8 62.8 0 0 1 152.31 216.33L145.5 198.59A43.8 43.8 0 0 0 173.57 156.17Z" fill="#c3c3c3"/><path d="M152.31 216.33A62.8 62.8 0 0 1 74.87 188.15L91.49 178.93A43.8 43.8 0 0 0 145.5 198.59Z" fill="#808080"/><path d="M74.87 188.15A62.8 62.8 0 1 1 192.56 155.51L173.57 156.17A43.8 43.8 0 1 0 91.49 178.93Z" fill="#035aac"/><circle cx="129.8" cy="157.7" r="42.3" fill="none" stroke="#7fb0ea" stroke-width="3" opacity="0.55" filter="url(#bl6b)"/><text x="112.4" y="147.09" font-size="11.6" fill="#222">总天数</text><text x="112.56" y="174.9" font-size="31" font-weight="700" fill="#035aac" textLength="34.48">90</text><rect x="214" y="139.9" width="3.600" height="3.600" fill="#035aac"/><text x="219.6" y="144.14" font-size="6.6" fill="#666">分类1</text><rect x="214" y="156.6" width="3.600" height="3.600" fill="#c3c3c3"/><text x="219.6" y="160.84" font-size="6.6" fill="#666">分类2</text><rect x="214" y="173.8" width="3.600" height="3.600" fill="#808080"/><text x="219.6" y="178.04" font-size="6.6" fill="#666">分类3</text><text x="275.6" y="76.53" font-size="9.8" font-weight="700" fill="#0b428f">在这里输入标题</text><text x="275.6" y="96.85" font-size="9.05" fill="#3c3c3c">标题数字等都可以通过点击和重新输入进行更</text><text x="275.6" y="113.15" font-size="9.05" fill="#3c3c3c" textLength="181">改，顶部“开始”面板中可以对字体、字号、</text><text x="275.6" y="129.45" font-size="9.05" fill="#3c3c3c">颜色、行距等进行修改标题数字等都可以通过</text><text x="275.6" y="145.75" font-size="9.05" fill="#3c3c3c">点击和重新输入进行更改。</text><text x="275.6" y="179.63" font-size="9.8" font-weight="700" fill="#0b428f">在这里输入标题</text><text x="275.6" y="200.35" font-size="9.05" fill="#3c3c3c">标题数字等都可以通过点击和重新输入进行更</text><text x="275.6" y="216.75" font-size="9.05" fill="#3c3c3c" textLength="190.05">改，顶部“开始”面板中可以对字体进行更改。</text></g></svg>
<svg class="s" style="left:0px;top:840px" width="475" height="270" viewBox="0 0 475 270"><rect width="475" height="270" fill="#fff"/><rect width="475" height="28.6" fill="#035aac"/><path d="M19.8 7.8h11.300v11.300h-11.300zM21.500 9.600v7.100h7.200v-7.100z" fill="#fff" fill-rule="evenodd"/><text x="37" y="19.44" font-size="14.7" font-weight="700" fill="#fff">数据表格</text><g transform="translate(19.5 259.3)"><circle r="5.4" fill="#fff" stroke="#173f7c" stroke-width="1.7"/><path d="M-3.2 -0.6c1 0.2 1.6 1 1.9 2.2c0.9-2.3 2.4-3.6 4.6-4.2c-1.7 1.5-2.6 3.400-3 6.2c-1.4 0.3-2.4-0.2-2.900-1.100c0.5-0.5 0.5-2-0.6-3.100z" fill="#3a9a2c"/><circle cx="-0.8" cy="-2.2" r="0.9" fill="#e8a21a"/></g><g fill="#9a9a9a"><text x="29.7" y="262.38" font-size="5.9">江西中医药高等专科学校</text><text x="94.6" y="262.38" font-size="6.2" textLength="50.49"> | University Name</text></g><text x="385.84" y="262.4" font-size="6.5" fill="#8a8a8a" textLength="58.16">www.pptgenius.com</text><rect x="448.2" y="257" width="0.6" height="6.4" fill="#bbb"/><text x="451.8" y="262.4" font-size="6.2" font-weight="700" fill="#333" textLength="6.9">28</text><rect x="18.75" y="75.5" width="76.25" height="50.8" fill="#f2f2f2"/><rect x="18.75" y="58.25" width="438.25" height="17.25" fill="#035aac"/><text x="27.6" y="69.61" font-size="7.4" font-weight="700" fill="#fff">序号</text><text x="65.72" y="69.61" font-size="7.4" font-weight="700" fill="#fff">项目</text><text x="198.95" y="69.61" font-size="7.4" font-weight="700" fill="#fff">行动方案</text><text x="351.65" y="69.61" font-size="7.4" font-weight="700" fill="#fff">负责人</text><text x="410.2" y="69.61" font-size="7.4" font-weight="700" fill="#fff">时间节点</text><path d="M18.75 75.5V126.3M51.25 75.5V126.3M95 75.5V126.3M332.5 75.5V126.3M393 75.5V126.3M457 75.5V126.3M18.75 100.9H51.25M95 100.9H457M18.75 126.3H457" stroke="#d4d4d4" stroke-width="0.6" fill="none"/><text x="33.19" y="90.5" font-size="6.5" fill="#666">1</text><text x="98.5" y="86.46" font-size="6.92" fill="#3c3c3c" textLength="228.36">标题数字等都可以通过点击和重新输入进行更改，顶部“开始”面板中可以</text><text x="98.5" y="95.16" font-size="6.92" fill="#3c3c3c">对字体、字号、颜色、行距等进行修改</text><text x="355.8" y="90.77" font-size="6.95" fill="#3c3c3c">张三</text><text x="406.54" y="90.77" font-size="6.95" fill="#3c3c3c">11月30日前</text><text x="33.19" y="115.9" font-size="6.5" fill="#666">2</text><text x="98.5" y="111.86" font-size="6.92" fill="#3c3c3c" textLength="228.36">标题数字等都可以通过点击和重新输入进行更改，顶部“开始”面板中可以</text><text x="98.5" y="120.56" font-size="6.92" fill="#3c3c3c">对字体、字号、颜色、行距等进行修改</text><text x="355.8" y="116.17" font-size="6.95" fill="#3c3c3c">李四</text><text x="406.54" y="116.17" font-size="6.95" fill="#3c3c3c">11月15日前</text><text x="59.2" y="99.37" font-size="6.95" fill="#3c3c3c">保有客户</text><text x="66.15" y="107.97" font-size="6.95" fill="#3c3c3c">激活</text><rect x="18.75" y="157.5" width="76.25" height="67" fill="#f2f2f2"/><rect x="18.75" y="140.5" width="438.25" height="17" fill="#808080"/><text x="27.6" y="151.74" font-size="7.4" font-weight="700" fill="#fff">序号</text><text x="65.72" y="151.74" font-size="7.4" font-weight="700" fill="#fff">项目</text><text x="198.95" y="151.74" font-size="7.4" font-weight="700" fill="#fff">行动方案</text><text x="351.65" y="151.74" font-size="7.4" font-weight="700" fill="#fff">负责人</text><text x="410.2" y="151.74" font-size="7.4" font-weight="700" fill="#fff">时间节点</text><path d="M18.75 157.5V224.5M51.25 157.5V224.5M95 157.5V224.5M332.5 157.5V224.5M393 157.5V224.5M457 157.5V224.5M18.75 174.25H51.25M95 174.25H457M18.75 191H457M18.75 207.75H51.25M95 207.75H457M18.75 224.5H457" stroke="#d4d4d4" stroke-width="0.6" fill="none"/><text x="33.19" y="168.18" font-size="6.5" fill="#666">1</text><text x="98.5" y="168.44" font-size="6.94" fill="#3c3c3c">标题数字等都可以通过点击和重新输入进行更改</text><text x="352.32" y="168.45" font-size="6.95" fill="#3c3c3c">内训师</text><text x="411.1" y="168.45" font-size="6.95" fill="#3c3c3c">即日实施</text><text x="33.19" y="184.93" font-size="6.5" fill="#666">2</text><text x="98.5" y="185.19" font-size="6.94" fill="#3c3c3c">标题数字等都可以通过点击和重新输入进行更改</text><text x="352.32" y="185.2" font-size="6.95" fill="#3c3c3c">内训师</text><text x="417.51" y="185.2" font-size="6.95" fill="#3c3c3c">11月</text><text x="33.19" y="201.68" font-size="6.5" fill="#666">3</text><text x="98.5" y="201.94" font-size="6.94" fill="#3c3c3c">标题数字等都可以通过点击和重新输入进行更改</text><text x="352.32" y="201.95" font-size="6.95" fill="#3c3c3c">内训师</text><text x="417.51" y="201.95" font-size="6.95" fill="#3c3c3c">11月</text><text x="33.19" y="218.43" font-size="6.5" fill="#666">4</text><text x="98.5" y="218.69" font-size="6.94" fill="#3c3c3c">标题数字等都可以通过点击和重新输入进行更改</text><text x="352.32" y="218.7" font-size="6.95" fill="#3c3c3c">内训师</text><text x="407.08" y="218.7" font-size="6.95" fill="#3c3c3c">至少1次 /月</text><text x="59.2" y="176.82" font-size="6.95" fill="#3c3c3c">服务标准</text><text x="59.2" y="210.32" font-size="6.95" fill="#3c3c3c">销售技能</text></svg>
<svg class="s" style="left:485px;top:840px" width="475" height="270" viewBox="0 0 475 270"><rect width="475" height="270" fill="#fff"/><rect width="475" height="28.6" fill="#035aac"/><path d="M19.8 7.8h11.300v11.300h-11.300zM21.500 9.600v7.100h7.200v-7.100z" fill="#fff" fill-rule="evenodd"/><text x="37" y="19.44" font-size="14.7" font-weight="700" fill="#fff">数据对比</text><g transform="translate(19.5 259.3)"><circle r="5.4" fill="#fff" stroke="#173f7c" stroke-width="1.7"/><path d="M-3.2 -0.6c1 0.2 1.6 1 1.9 2.2c0.9-2.3 2.4-3.6 4.6-4.2c-1.7 1.5-2.6 3.400-3 6.2c-1.4 0.3-2.4-0.2-2.900-1.100c0.5-0.5 0.5-2-0.6-3.100z" fill="#3a9a2c"/><circle cx="-0.8" cy="-2.2" r="0.9" fill="#e8a21a"/></g><g fill="#9a9a9a"><text x="29.7" y="262.38" font-size="5.9">江西中医药高等专科学校</text><text x="94.6" y="262.38" font-size="6.2" textLength="50.49"> | University Name</text></g><text x="385.84" y="262.4" font-size="6.5" fill="#8a8a8a" textLength="58.16">www.pptgenius.com</text><rect x="448.2" y="257" width="0.6" height="6.4" fill="#bbb"/><text x="451.8" y="262.4" font-size="6.2" font-weight="700" fill="#333" textLength="6.9">29</text><g transform="translate(-5 0)"><rect x="40.8" y="67.600" width="101.00000000000001" height="87.100" fill="#e6e2e3"/><rect x="141.8" y="67.600" width="87" height="87.100" fill="#1466b4"/><circle cx="185.8" cy="110.2" r="30.5" fill="none" stroke="#7fb0e4" stroke-width="0.9"/><path d="M185.8 79.7A30.5 30.5 0 1 1 167.87 134.88" fill="none" stroke="#fff" stroke-width="2.800"/><text x="170.9" y="118" font-size="21" fill="#fff" textLength="23.36">60</text><text x="194.56" y="118" font-size="9.5" fill="#fff">%</text><g transform="translate(94.6 110.7)"><rect x="-9.400" y="-8.200" width="18.200" height="15.800" rx="1" fill="#e6e2e3" stroke="#9b9b9b" stroke-width="1.300"/><path d="M-7.600 5.800v-4.200l4.500-5.100l3.600 3.700l2.300-2.100l4.200 4v3.700z" fill="#8f8f8f"/><circle cx="3.800" cy="-4.600" r="1.500" fill="#8f8f8f"/><circle cx="6.700" cy="5.200" r="4.300" fill="#8f8f8f" stroke="#e6e2e3" stroke-width="1"/><path d="M4.100 5.200h5.200M6.700 2.600v5.200" stroke="#fff" stroke-width="1.300"/></g><text x="41.5" y="190.4" font-size="11.9" font-weight="700" fill="#0b428f">点击此处添加您的标题</text><text x="41.5" y="205.41" font-size="7.05" fill="#3c3c3c" textLength="183.3">标题数字等都可以通过点击和重新输入进行更改，顶部“开</text><text x="41.5" y="218.01" font-size="7.05" fill="#3c3c3c" textLength="112.8">始”面板中可以对字体、字号、颜色</text><rect x="255" y="67.600" width="101" height="87.100" fill="#e6e2e3"/><rect x="356" y="67.600" width="87" height="87.100" fill="#1466b4"/><circle cx="400" cy="110.2" r="30.5" fill="none" stroke="#7fb0e4" stroke-width="0.9"/><path d="M400 79.7A30.5 30.5 0 1 1 370.99 100.77" fill="none" stroke="#fff" stroke-width="2.800"/><text x="385.1" y="118" font-size="21" fill="#fff" textLength="23.36">80</text><text x="408.76" y="118" font-size="9.5" fill="#fff">%</text><g transform="translate(308.8 110.7)"><rect x="-9.400" y="-8.200" width="18.200" height="15.800" rx="1" fill="#e6e2e3" stroke="#9b9b9b" stroke-width="1.300"/><path d="M-7.600 5.800v-4.200l4.500-5.100l3.600 3.700l2.300-2.100l4.200 4v3.700z" fill="#8f8f8f"/><circle cx="3.800" cy="-4.600" r="1.500" fill="#8f8f8f"/><circle cx="6.700" cy="5.200" r="4.300" fill="#8f8f8f" stroke="#e6e2e3" stroke-width="1"/><path d="M4.100 5.200h5.200M6.700 2.600v5.200" stroke="#fff" stroke-width="1.300"/></g><text x="255.7" y="190.4" font-size="11.9" font-weight="700" fill="#0b428f">点击此处添加您的标题</text><text x="255.7" y="205.41" font-size="7.05" fill="#3c3c3c" textLength="183.3">标题数字等都可以通过点击和重新输入进行更改，顶部“开</text><text x="255.7" y="218.01" font-size="7.05" fill="#3c3c3c" textLength="112.8">始”面板中可以对字体、字号、颜色</text></g></svg>
<svg class="s" style="left:0px;top:1120px" width="475" height="270" viewBox="0 0 475 270"><rect width="475" height="270" fill="#fff"/><rect width="475" height="28.6" fill="#035aac"/><path d="M19.8 7.8h11.300v11.300h-11.300zM21.500 9.600v7.100h7.200v-7.100z" fill="#fff" fill-rule="evenodd"/><text x="37" y="19.44" font-size="14.7" font-weight="700" fill="#fff">目录要点</text><g transform="translate(19.5 259.3)"><circle r="5.4" fill="#fff" stroke="#173f7c" stroke-width="1.7"/><path d="M-3.2 -0.6c1 0.2 1.6 1 1.9 2.2c0.9-2.3 2.4-3.6 4.6-4.2c-1.7 1.5-2.6 3.400-3 6.2c-1.4 0.3-2.4-0.2-2.900-1.100c0.5-0.5 0.5-2-0.6-3.100z" fill="#3a9a2c"/><circle cx="-0.8" cy="-2.2" r="0.9" fill="#e8a21a"/></g><g fill="#9a9a9a"><text x="29.7" y="262.38" font-size="5.9">江西中医药高等专科学校</text><text x="94.6" y="262.38" font-size="6.2" textLength="50.49"> | University Name</text></g><text x="385.84" y="262.4" font-size="6.5" fill="#8a8a8a" textLength="58.16">www.pptgenius.com</text><rect x="448.2" y="257" width="0.6" height="6.4" fill="#bbb"/><text x="451.8" y="262.4" font-size="6.2" font-weight="700" fill="#333" textLength="6.9">30</text><rect x="237.2" y="55" width="0.6" height="180" fill="#d6d6d6"/><path d="M27.5 68.25h30v22.800l-15 6.400l-15-6.400z" fill="#035aac"/><text x="31.93" y="88.85" font-size="19" font-weight="700" fill="#fff" textLength="21.13">01</text><text x="67" y="79.51" font-size="10.85" font-weight="700" fill="#0b428f">点击此处添加标题</text><text x="67" y="92.19" font-size="5.92" fill="#3c3c3c">标题数字等都可以通过点击和重新输入进行更改</text><path d="M27.5 130.75h30v22.800l-15 6.400l-15-6.400z" fill="#035aac"/><text x="31.93" y="151.35" font-size="19" font-weight="700" fill="#fff" textLength="21.13">02</text><text x="67" y="142.01" font-size="10.85" font-weight="700" fill="#0b428f">点击此处添加标题</text><text x="67" y="154.69" font-size="5.92" fill="#3c3c3c">标题数字等都可以通过点击和重新输入进行更改</text><path d="M27.5 193.25h30v22.800l-15 6.400l-15-6.400z" fill="#035aac"/><text x="31.93" y="213.85" font-size="19" font-weight="700" fill="#fff" textLength="21.13">03</text><text x="67" y="204.51" font-size="10.85" font-weight="700" fill="#0b428f">点击此处添加标题</text><text x="67" y="217.19" font-size="5.92" fill="#3c3c3c">标题数字等都可以通过点击和重新输入进行更改</text><path d="M272.5 68.25h30v22.800l-15 6.400l-15-6.400z" fill="#035aac"/><text x="276.93" y="88.85" font-size="19" font-weight="700" fill="#fff" textLength="21.13">04</text><text x="312" y="79.51" font-size="10.85" font-weight="700" fill="#0b428f">点击此处添加标题</text><text x="312" y="92.19" font-size="5.92" fill="#3c3c3c">标题数字等都可以通过点击和重新输入进行更改</text><path d="M272.5 130.75h30v22.800l-15 6.400l-15-6.400z" fill="#035aac"/><text x="276.93" y="151.35" font-size="19" font-weight="700" fill="#fff" textLength="21.13">05</text><text x="312" y="142.01" font-size="10.85" font-weight="700" fill="#0b428f">点击此处添加标题</text><text x="312" y="154.69" font-size="5.92" fill="#3c3c3c">标题数字等都可以通过点击和重新输入进行更改</text><path d="M272.5 193.25h30v22.800l-15 6.400l-15-6.400z" fill="#035aac"/><text x="276.93" y="213.85" font-size="19" font-weight="700" fill="#fff" textLength="21.13">06</text><text x="312" y="204.51" font-size="10.85" font-weight="700" fill="#0b428f">点击此处添加标题</text><text x="312" y="217.19" font-size="5.92" fill="#3c3c3c">标题数字等都可以通过点击和重新输入进行更改</text></svg>
<svg class="s" style="left:485px;top:1120px" width="475" height="270" viewBox="0 0 475 270"><rect width="475" height="270" fill="#fff"/><rect width="475" height="28.6" fill="#035aac"/><path d="M19.8 7.8h11.300v11.300h-11.300zM21.500 9.600v7.100h7.200v-7.100z" fill="#fff" fill-rule="evenodd"/><text x="37" y="19.44" font-size="14.7" font-weight="700" fill="#fff">风险分析</text><g transform="translate(19.5 259.3)"><circle r="5.4" fill="#fff" stroke="#173f7c" stroke-width="1.7"/><path d="M-3.2 -0.6c1 0.2 1.6 1 1.9 2.2c0.9-2.3 2.4-3.6 4.6-4.2c-1.7 1.5-2.6 3.400-3 6.2c-1.4 0.3-2.4-0.2-2.900-1.100c0.5-0.5 0.5-2-0.6-3.100z" fill="#3a9a2c"/><circle cx="-0.8" cy="-2.2" r="0.9" fill="#e8a21a"/></g><g fill="#9a9a9a"><text x="29.7" y="262.38" font-size="5.9">江西中医药高等专科学校</text><text x="94.6" y="262.38" font-size="6.2" textLength="50.49"> | University Name</text></g><text x="385.84" y="262.4" font-size="6.5" fill="#8a8a8a" textLength="58.16">www.pptgenius.com</text><rect x="448.2" y="257" width="0.6" height="6.4" fill="#bbb"/><text x="451.8" y="262.4" font-size="6.2" font-weight="700" fill="#333" textLength="6.9">31</text><g transform="translate(-5 0)"><defs><clipPath id="hx"><path d="M318.4 125.11Q327.4 140.7 318.4 156.29L296.85 193.61Q285.85 212.67 275.85 212.67L217.75 212.67Q202.75 212.67 194.25 197.94L169.7 155.42Q161.2 140.7 169.7 125.98L194.25 83.46Q202.75 68.73 217.75 68.73L277.85 68.73Q285.85 68.73 290.35 76.53Z"/></clipPath></defs><g clip-path="url(#hx)"><path d="M159.66 125.47C162.53 123.65 171.8 117.34 176.89 114.55C181.99 111.76 185.69 110.28 190.25 108.73C194.8 107.18 199.63 106.13 204.23 105.25C208.83 104.37 213.76 103.85 217.83 103.45C221.89 103.04 225.2 103.09 228.61 102.82C232.02 102.56 234.97 101.98 238.29 101.86C241.6 101.75 245.15 101.68 248.49 102.13C251.83 102.57 256.69 104.13 258.33 104.53A38.8 38.8 0 0 1 282.64 134.76L282.64 134.76C282.17 133.14 281.09 128.16 279.8 125.04C278.51 121.93 276.68 118.89 274.93 116.07C273.17 113.26 271.19 110.99 269.26 108.17C267.33 105.35 265.71 102.46 263.32 99.15C260.94 95.83 258.03 91.81 254.97 88.27C251.91 84.73 248.58 81.07 244.96 77.9C241.34 74.73 238.2 72.27 233.24 69.25C228.27 66.23 218.18 61.36 215.17 59.78L201.96 23.09L148.83 60.02L121.28 118.56Z" fill="#035aac"/><path d="M215.17 59.78C218.18 61.36 228.27 66.23 233.24 69.25C238.2 72.27 241.34 74.73 244.96 77.9C248.58 81.07 251.91 84.73 254.97 88.27C258.03 91.81 260.94 95.83 263.32 99.15C265.71 102.46 267.33 105.35 269.26 108.17C271.19 110.99 273.17 113.26 274.93 116.07C276.68 118.89 278.51 121.93 279.8 125.04C281.09 128.16 282.17 133.14 282.64 134.76A38.8 38.8 0 0 1 268.61 170.94L268.61 170.94C269.78 169.72 273.56 166.29 275.61 163.62C277.66 160.94 279.38 157.84 280.94 154.91C282.5 151.98 283.47 149.14 284.95 146.05C286.43 142.97 288.12 140.12 289.8 136.4C291.48 132.68 293.5 128.15 295.04 123.72C296.57 119.3 298.08 114.59 299.01 109.87C299.95 105.15 300.51 101.21 300.65 95.4C300.78 89.59 299.95 78.41 299.81 75.01L324.98 45.23L266.44 17.68L201.96 23.09Z" fill="#1464b4"/><path d="M299.81 75.01C299.95 78.41 300.78 89.59 300.65 95.4C300.51 101.21 299.95 105.15 299.01 109.87C298.08 114.59 296.57 119.3 295.04 123.72C293.5 128.15 291.48 132.68 289.8 136.4C288.12 140.12 286.43 142.97 284.95 146.05C283.47 149.14 282.5 151.98 280.94 154.91C279.38 157.84 277.66 160.94 275.61 163.62C273.56 166.29 269.78 169.72 268.61 170.94A38.8 38.8 0 0 1 230.27 176.87L230.27 176.87C231.91 177.27 236.77 178.83 240.11 179.27C243.45 179.72 247 179.65 250.31 179.54C253.63 179.42 256.58 178.84 259.99 178.58C263.4 178.31 266.71 178.36 270.77 177.95C274.84 177.55 279.77 177.03 284.37 176.15C288.97 175.27 293.8 174.22 298.35 172.67C302.91 171.12 306.61 169.64 311.71 166.85C316.8 164.06 326.07 157.75 328.94 155.93L367.32 162.84L361.91 98.36L324.98 45.23Z" fill="#2876be"/><path d="M328.94 155.93C326.07 157.75 316.8 164.06 311.71 166.85C306.61 169.64 302.91 171.12 298.35 172.67C293.8 174.22 288.97 175.27 284.37 176.15C279.77 177.03 274.84 177.55 270.77 177.95C266.71 178.36 263.4 178.31 259.99 178.58C256.58 178.84 253.63 179.42 250.31 179.54C247 179.65 243.45 179.72 240.11 179.27C236.77 178.83 231.91 177.27 230.27 176.87A38.8 38.8 0 0 1 205.96 146.64L205.96 146.64C206.43 148.26 207.51 153.24 208.8 156.36C210.09 159.47 211.92 162.51 213.67 165.33C215.43 168.14 217.41 170.41 219.34 173.23C221.27 176.05 222.89 178.94 225.28 182.25C227.66 185.57 230.57 189.59 233.63 193.13C236.69 196.67 240.02 200.33 243.64 203.5C247.26 206.67 250.4 209.13 255.36 212.15C260.33 215.17 270.42 220.04 273.43 221.62L286.64 258.31L339.77 221.38L367.32 162.84Z" fill="#3e82c6"/><path d="M273.43 221.62C270.42 220.04 260.33 215.17 255.36 212.15C250.4 209.13 247.26 206.67 243.64 203.5C240.02 200.33 236.69 196.67 233.63 193.13C230.57 189.59 227.66 185.57 225.28 182.25C222.89 178.94 221.27 176.05 219.34 173.23C217.41 170.41 215.43 168.14 213.67 165.33C211.92 162.51 210.09 159.47 208.8 156.36C207.51 153.24 206.43 148.26 205.96 146.64A38.8 38.8 0 0 1 219.99 110.46L219.99 110.46C218.82 111.68 215.04 115.11 212.99 117.78C210.94 120.46 209.22 123.56 207.66 126.49C206.1 129.42 205.13 132.26 203.65 135.35C202.17 138.43 200.48 141.28 198.8 145C197.12 148.72 195.1 153.25 193.56 157.68C192.03 162.1 190.52 166.81 189.59 171.53C188.65 176.25 188.09 180.19 187.95 186C187.82 191.81 188.65 202.99 188.79 206.39L163.62 236.17L222.16 263.72L286.64 258.31Z" fill="#69a0d4"/><path d="M188.79 206.39C188.65 202.99 187.82 191.81 187.95 186C188.09 180.19 188.65 176.25 189.59 171.53C190.52 166.81 192.03 162.1 193.56 157.68C195.1 153.25 197.12 148.72 198.8 145C200.48 141.28 202.17 138.43 203.65 135.35C205.13 132.26 206.1 129.42 207.66 126.49C209.22 123.56 210.94 120.46 212.99 117.78C215.04 115.11 218.82 111.68 219.99 110.46A38.8 38.8 0 0 1 258.33 104.53L258.33 104.53C256.69 104.13 251.83 102.57 248.49 102.13C245.15 101.68 241.6 101.75 238.29 101.86C234.97 101.98 232.02 102.56 228.61 102.82C225.2 103.09 221.89 103.04 217.83 103.45C213.76 103.85 208.83 104.37 204.23 105.25C199.63 106.13 194.8 107.18 190.25 108.73C185.69 110.28 181.99 111.76 176.89 114.55C171.8 117.34 162.53 123.65 159.66 125.47L121.28 118.56L126.69 183.04L163.62 236.17Z" fill="#8cb4de"/><path d="M159.66 125.47C162.53 123.65 171.8 117.34 176.89 114.55C181.99 111.76 185.69 110.28 190.25 108.73C194.8 107.18 199.63 106.13 204.23 105.25C208.83 104.37 213.76 103.85 217.83 103.45C221.89 103.04 225.2 103.09 228.61 102.82C232.02 102.56 234.97 101.98 238.29 101.86C241.6 101.75 245.15 101.68 248.49 102.13C251.83 102.57 256.69 104.13 258.33 104.53" fill="none" stroke="#fff" stroke-width="3.100"/><path d="M215.17 59.78C218.18 61.36 228.27 66.23 233.24 69.25C238.2 72.27 241.34 74.73 244.96 77.9C248.58 81.07 251.91 84.73 254.97 88.27C258.03 91.81 260.94 95.83 263.32 99.15C265.71 102.46 267.33 105.35 269.26 108.17C271.19 110.99 273.17 113.26 274.93 116.07C276.68 118.89 278.51 121.93 279.8 125.04C281.09 128.16 282.17 133.14 282.64 134.76" fill="none" stroke="#fff" stroke-width="3.100"/><path d="M299.81 75.01C299.95 78.41 300.78 89.59 300.65 95.4C300.51 101.21 299.95 105.15 299.01 109.87C298.08 114.59 296.57 119.3 295.04 123.72C293.5 128.15 291.48 132.68 289.8 136.4C288.12 140.12 286.43 142.97 284.95 146.05C283.47 149.14 282.5 151.98 280.94 154.91C279.38 157.84 277.66 160.94 275.61 163.62C273.56 166.29 269.78 169.72 268.61 170.94" fill="none" stroke="#fff" stroke-width="3.100"/><path d="M328.94 155.93C326.07 157.75 316.8 164.06 311.71 166.85C306.61 169.64 302.91 171.12 298.35 172.67C293.8 174.22 288.97 175.27 284.37 176.15C279.77 177.03 274.84 177.55 270.77 177.95C266.71 178.36 263.4 178.31 259.99 178.58C256.58 178.84 253.63 179.42 250.31 179.54C247 179.65 243.45 179.72 240.11 179.27C236.77 178.83 231.91 177.27 230.27 176.87" fill="none" stroke="#fff" stroke-width="3.100"/><path d="M273.43 221.62C270.42 220.04 260.33 215.17 255.36 212.15C250.4 209.13 247.26 206.67 243.64 203.5C240.02 200.33 236.69 196.67 233.63 193.13C230.57 189.59 227.66 185.57 225.28 182.25C222.89 178.94 221.27 176.05 219.34 173.23C217.41 170.41 215.43 168.14 213.67 165.33C211.92 162.51 210.09 159.47 208.8 156.36C207.51 153.24 206.43 148.26 205.96 146.64" fill="none" stroke="#fff" stroke-width="3.100"/><path d="M188.79 206.39C188.65 202.99 187.82 191.81 187.95 186C188.09 180.19 188.65 176.25 189.59 171.53C190.52 166.81 192.03 162.1 193.56 157.68C195.1 153.25 197.12 148.72 198.8 145C200.48 141.28 202.17 138.43 203.65 135.35C205.13 132.26 206.1 129.42 207.66 126.49C209.22 123.56 210.94 120.46 212.99 117.78C215.04 115.11 218.82 111.68 219.99 110.46" fill="none" stroke="#fff" stroke-width="3.100"/></g><circle cx="244.3" cy="140.7" r="40.0" fill="#fff"/><g transform="translate(215.800 87.400)" fill="#fff"><path d="M-5 -9.600c1.300-0.900 2.300 0.400 3.300-0.200c1.100-0.600 2.300-0.600 3.400 0c1 0.600 2-0.700 3.300 0.200c0.600 1.100-0.500 2.800-1.600 4h-6.800c-1.100-1.200-2.200-2.900-1.600-4z"/><path d="M-3.800 -5h7.600c3 2.300 5.100 5.500 5.100 8.800c0 3.200-2 4.900-4.800 4.900h-8.200c-2.800 0-4.800-1.700-4.800-4.900c0-3.300 2.100-6.500 5.100-8.800z"/><path d="M-2.900 -1.800l2.900 4.300l2.900-4.300M-2.700 2.900h5.400M-2.700 4.900h5.400M0 2.500v5" fill="none" stroke="#035aac" stroke-width="1.300"/></g><g transform="translate(275 86.700)"><path d="M3 -8.500h6.600v9h-6.600z" fill="none" stroke="#fff" stroke-width="0.9"/><path d="M3 -6.200h6.600M3 -3.900h6.600M3 -1.600h6.600" stroke="#fff" stroke-width="0.9"/><path d="M-10 -8.2a5.200 1.700 0 0 0 10.400 0v2.300a5.200 1.700 0 0 1-10.400 0z" fill="#fff"/><path d="M-10 -4.45a5.200 1.700 0 0 0 10.400 0v2.300a5.200 1.700 0 0 1-10.400 0z" fill="#fff"/><path d="M-10 -0.7a5.200 1.700 0 0 0 10.400 0v2.300a5.200 1.700 0 0 1-10.400 0z" fill="#fff"/><path d="M-10 3.05a5.200 1.700 0 0 0 10.400 0v2.300a5.200 1.700 0 0 1-10.400 0z" fill="#fff"/><ellipse cx="-4.800" cy="-8.400" rx="5.200" ry="1.700" fill="#1464b4" stroke="#fff" stroke-width="0.9"/><circle cx="4.700" cy="4.900" r="5.400" fill="#1464b4"/><circle cx="4.700" cy="4.900" r="4.300" fill="none" stroke="#fff" stroke-width="1.100"/><text x="2.81" y="7.3" font-size="6.8" font-weight="700" fill="#fff">$</text></g><g transform="translate(304.800 145.600)" fill="#fff"><path d="M3.200 -8.600c2.400 0 3.800 1.700 3.800 4c0 2-1 3.700-2 4.600v1.300l4.200 1.800c1 0.500 1.600 1.300 1.600 2.500v1.900h-6.500v-1.700c0-1.600-0.800-2.700-2.200-3.300l-1.500-0.700c1.100-1 2-2.700 2-4.700c0-1.500-0.400-2.800-1.300-3.700c0.500-1.200 1-2 1.900-2z"/><path d="M-3.200 -8.200c2.600 0 4 1.800 4 4.200c0 2.100-1 3.800-2.100 4.800v1.400l4.300 1.900c1.100 0.500 1.700 1.400 1.700 2.600v1.300h-15.800v-1.300c0-1.200 0.600-2.100 1.700-2.600l4.300-1.900v-1.400c-1.100-1-2.100-2.700-2.100-4.800c0-2.400 1.400-4.200 4-4.200z" stroke="#2876be" stroke-width="0.700"/></g><g transform="translate(269.400 198.900)" fill="#fff"><path d="M-0.500 -9.300v9.800h9.800a9.800 9.800 0 1 1-9.800-9.800z"/><path d="M1 -10.700a9.700 9.700 0 0 1 9.700 9.700h-9.700z"/><path d="M2.500 -8.400l4.200 3.300l-4.200 2.600z" fill="#3e82c6"/></g><g transform="translate(216 198.600)" fill="#fff"><path d="M-9.800 -9.500h10.700v18.700h-3.700v-3.800h-3.300v3.800h-3.700z"/><path d="M2.300 -3.700h8v12.900h-2.700v-2.400h-2.600v2.400h-2.700z"/><rect x="-7.800" y="-7.3" width="2.400" height="2" fill="#69a0d4"/><rect x="-3.500" y="-7.3" width="2.400" height="2" fill="#69a0d4"/><rect x="-7.800" y="-3.7" width="2.400" height="2" fill="#69a0d4"/><rect x="-3.500" y="-3.7" width="2.400" height="2" fill="#69a0d4"/><rect x="-7.800" y="-0.1" width="2.400" height="2" fill="#69a0d4"/><rect x="-3.500" y="-0.1" width="2.400" height="2" fill="#69a0d4"/><rect x="3.700" y="-1.6" width="5.200" height="1.100" fill="#69a0d4"/><rect x="3.700" y="0.9" width="5.200" height="1.100" fill="#69a0d4"/><rect x="3.700" y="3.4" width="5.200" height="1.100" fill="#69a0d4"/></g><g transform="translate(182.200 141.900)" fill="#fff"><circle r="7.200"/><path d="M-3.100 -4.400l3.100 4.700l3.100-4.700M-3 0.900h6M-3 2.900h6M0 0.300v5" fill="none" stroke="#5a7fae" stroke-width="0.800"/><path d="M-12 4.800c2-1.600 4.300-1.900 6.300-1.200l4.200 1.300c1.500 0.500 1.300 1.900-0.100 1.900l-3.400-0.200l4 0.700l6.600-3.100c1.600-0.700 2.700 0.700 1.400 1.800l-7 5c-1 0.600-2.100 0.700-3.300 0.500l-6.200-1.200l-2.500 0.800z" stroke="#8cb4de" stroke-width="0.600"/></g><text x="92.5" y="71.2" font-size="10" font-weight="700" fill="#0b428f">点击此处添加标题</text><text x="71" y="85.48" font-size="7.25" fill="#3c3c3c">标题数字等都可以通过点击更改</text><text x="66" y="132.7" font-size="10" font-weight="700" fill="#0b428f">点击此处添加标题</text><text x="44.5" y="146.98" font-size="7.25" fill="#3c3c3c">标题数字等都可以通过点击更改</text><text x="97.5" y="208.7" font-size="10" font-weight="700" fill="#0b428f">点击此处添加标题</text><text x="76" y="222.98" font-size="7.25" fill="#3c3c3c">标题数字等都可以通过点击更改</text><text x="316" y="71.2" font-size="10" font-weight="700" fill="#0b428f">点击此处添加标题</text><text x="316" y="85.48" font-size="7.25" fill="#3c3c3c">标题数字等都可以通过点击更改</text><text x="338" y="132.7" font-size="10" font-weight="700" fill="#0b428f">点击此处添加标题</text><text x="338" y="146.98" font-size="7.25" fill="#3c3c3c">标题数字等都可以通过点击更改</text><text x="309" y="208.7" font-size="10" font-weight="700" fill="#0b428f">点击此处添加标题</text><text x="309" y="222.98" font-size="7.25" fill="#3c3c3c">标题数字等都可以通过点击更改</text></g></svg>
</body></html>
